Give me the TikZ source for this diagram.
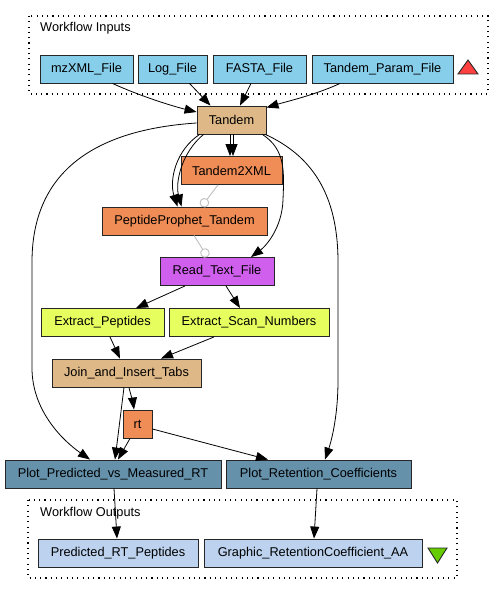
\documentclass[tikz,border=0pt]{standalone}
\usepackage{fontspec}
\setmainfont{Liberation Sans}
\usetikzlibrary{arrows.meta,calc}
\definecolor{cin}{HTML}{87CEEB}
\definecolor{cbeige}{HTML}{DEB887}
\definecolor{corange}{HTML}{F08C55}
\definecolor{cpurple}{HTML}{D15FEE}
\definecolor{cyellow}{HTML}{E6FF5E}
\definecolor{cplot}{HTML}{6591AB}
\definecolor{cout}{HTML}{BCD2EE}
\definecolor{cred}{HTML}{FF4040}
\definecolor{cgreen}{HTML}{66CC00}
\definecolor{cgray}{HTML}{BEBEBE}
\tikzset{
  box/.style={draw=black!85, line width=0.9bp, rectangle, inner sep=0pt, minimum height=28bp,
    font=\fontsize{12.8}{14}\selectfont, anchor=center},
  arr/.style={draw=black, line width=0.8bp, -{Triangle[length=12bp,width=9bp]}},
  garr/.style={draw=cgray, line width=0.9bp, -{Circle[open,length=9.5bp,width=9.5bp,fill=white]}},
  cluster/.style={draw=black, line width=1.1bp, dash pattern=on 1.1bp off 4.2bp},
  clabel/.style={anchor=west, inner sep=0pt, font=\fontsize{12.8}{14}\selectfont},
}
\begin{document}
\begin{tikzpicture}[x=1bp,y=-1bp]
\useasboundingbox (0,0) rectangle (504,595);
% clusters
\draw[cluster] (29,16) rectangle (488,94);
\node[clabel] (inlabel) at (40,28) {Workflow Inputs};
\draw[cluster] (28,500) rectangle (457,578);
\node[clabel] (outlabel) at (40,513) {Workflow Outputs};
% inputs
\node[box, fill=cin, minimum width=93bp] (mz) at (86.5,69) {mzXML\_File};
\node[box, fill=cin, minimum width=69bp] (log) at (172.5,69) {Log\_File};
\node[box, fill=cin, minimum width=93bp] (fasta) at (259.5,69) {FASTA\_File};
\node[box, fill=cin, minimum width=141bp] (param) at (382.5,69) {Tandem\_Param\_File};
\draw[draw=black!85, line width=0.9bp, fill=cred] (458,74) -- (478,74) -- (468,60) -- cycle;
% processors
\node[box, fill=cbeige, minimum width=69bp] (tandem) at (231.5,120) {Tandem};
\node[box, fill=corange, minimum width=101bp] (t2x) at (231.5,170.5) {Tandem2XML};
\node[box, fill=corange, minimum width=165bp] (pp) at (184.5,221) {PeptideProphet\_Tandem};
\node[box, fill=cpurple, minimum width=114bp] (read) at (217,271.5) {Read\_Text\_File};
\node[box, fill=cyellow, minimum width=123bp] (epep) at (102.5,322.5) {Extract\_Peptides};
\node[box, fill=cyellow, minimum width=160bp] (escan) at (249,322.5) {Extract\_Scan\_Numbers};
\node[box, fill=cbeige, minimum width=149bp] (join) at (126.5,373) {Join\_and\_Insert\_Tabs};
\node[box, fill=corange, minimum width=29bp] (rt) at (137.5,424) {rt};
\node[box, fill=cplot, minimum width=216bp] (ppred) at (113,474) {Plot\_Predicted\_vs\_Measured\_RT};
\node[box, fill=cplot, minimum width=185bp] (pret) at (318.5,474) {Plot\_Retention\_Coefficients};
% outputs
\node[box, fill=cout, minimum width=160bp] (prt) at (118,553) {Predicted\_RT\_Peptides};
\node[box, fill=cout, minimum width=218bp] (graph) at (313,553) {Graphic\_RetentionCoefficient\_AA};
\draw[draw=black!85, line width=0.9bp, fill=cgreen] (428,548) -- (447,548) -- (437.5,563) -- cycle;
% edges
\draw[arr] ($(mz.south)+(26,0)$) .. controls (140,96) and (172,106) .. ($(tandem.west)+(0,-8)$);
\draw[arr] ($(log.south)+(17,0)$) -- ($(tandem.north)+(-21,0)$);
\draw[arr] ($(fasta.south)+(-8.5,0)$) -- ($(tandem.north)+(8.5,0)$);
\draw[arr] ($(param.south)+(-42.5,0)$) .. controls (315,95) and (285,102) .. ($(tandem.north east)+(0,2)$);
\draw[arr] ($(tandem.south)+(-1.5,0)$) -- ($(t2x.north)+(-1.5,0)$);
\draw[arr] ($(tandem.south)+(1.5,0)$) -- ($(t2x.north)+(1.5,0)$);
\draw[arr] ($(tandem.south west)+(3,0)$) .. controls (176,150) and (169,180) .. ($(pp.north)+(-7,0)$);
\draw[arr] ($(tandem.south west)+(7,0)$) .. controls (182,152) and (175,182) .. ($(pp.north)+(-3,0)$);
\draw[arr] ($(tandem.south east)+(-4,0)$) .. controls (286,150) and (284,172) .. (283,200) .. controls (282,228) and (266,246) .. ($(read.north)+(34,0)$);
\draw[garr] ($(t2x.south)+(-13.5,0)$) -- ($(pp.north)+(17,0)$);
\draw[garr] ($(pp.south)+(9.5,0)$) -- ($(read.north)+(-9.5,0)$);
\draw[arr] ($(tandem.west)+(0,3)$) .. controls (90,130) and (32,175) .. (32,262) -- (32,368) .. controls (32,410) and (62,440) .. ($(ppred.north)+(-23,0)$);
\draw[arr] ($(tandem.south east)+(-1,0)$) .. controls (310,155) and (338,192) .. (338,262) -- (338,380) .. controls (338,420) and (330,445) .. ($(pret.north)+(6.5,0)$);
\draw[arr] ($(read.south)+(-32,0)$) -- ($(epep.north)+(33.5,0)$);
\draw[arr] ($(read.south)+(9,0)$) -- ($(escan.north)+(-9,0)$);
\draw[arr] ($(epep.south)+(7.5,0)$) -- ($(join.north)+(-6.5,0)$);
\draw[arr] ($(escan.south)+(-35,0)$) -- ($(join.north)+(34.5,0)$);
\draw[arr] ($(join.south)+(2.5,0)$) .. controls (131,396) and (133,402) .. ($(rt.north)+(-3.5,0)$);
\draw[arr] ($(join.south)+(-2.5,0)$) -- ($(ppred.north)+(2,0)$);
\draw[arr] ($(rt.south)+(-7.5,0)$) -- ($(ppred.north)+(5,0)$);
\draw[arr] ($(rt.east)+(0,5)$) -- ($(pret.north)+(-50.5,0)$);
\draw[arr] ($(ppred.south)+(1,0)$) -- ($(prt.north)+(-1,0)$);
\draw[arr] ($(pret.south)+(-1.5,0)$) -- ($(graph.north)+(1,0)$);
\end{tikzpicture}
\end{document}
